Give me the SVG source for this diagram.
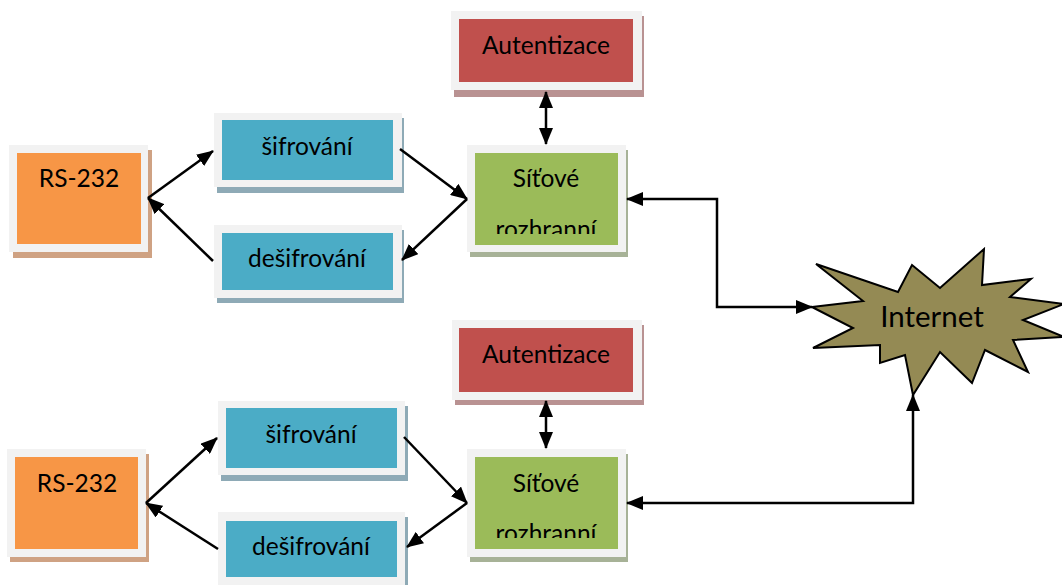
<svg xmlns="http://www.w3.org/2000/svg" width="1062" height="585" viewBox="0 0 1062 585">
<defs>
<style>
.frame{fill:#f2f2f2}
.lbl{font-family:Lato,"Liberation Sans",sans-serif;font-size:24.5px;fill:#000;text-anchor:middle}
.conn{fill:none;stroke:#000;stroke-width:2.5}
.or{fill:#f79646}.orS{fill:#cfa283}
.bl{fill:#4bacc6}.blS{fill:#8eaab6}
.rd{fill:#c0504d}.rdS{fill:#b99292}
.gr{fill:#9bbb59}.grS{fill:#a7b297}
</style>
<marker id="ah" markerUnits="userSpaceOnUse" markerWidth="17" markerHeight="14" refX="16" refY="7" orient="auto-start-reverse">
<path d="M0,0 L17,7 L0,14 z" fill="#000"/>
</marker>
<clipPath id="c1"><rect x="475" y="153" width="143" height="81"/></clipPath>
<clipPath id="c2"><rect x="475" y="457" width="143" height="81"/></clipPath>
</defs>
<rect width="1062" height="585" fill="#fff"/>

<g id="rs232-top">
<rect class="orS" x="13" y="150" width="139" height="108"/>
<rect class="frame" x="9" y="145" width="139" height="107"/>
<rect class="or" x="17" y="153" width="124" height="91"/>
<text class="lbl" x="79" y="187">RS-232</text>
</g>
<g id="sifrovani-top">
<rect class="blS" x="217" y="118" width="187" height="75"/>
<rect class="frame" x="214" y="113" width="188" height="74"/>
<rect class="bl" x="222" y="120" width="171" height="60"/>
<text class="lbl" x="307" y="155">šifrování</text>
</g>
<g id="desifrovani-top">
<rect class="blS" x="217" y="230" width="187" height="73"/>
<rect class="frame" x="214" y="225" width="188" height="73"/>
<rect class="bl" x="222" y="233" width="171" height="57"/>
<text class="lbl" x="307" y="267">dešifrování</text>
</g>
<g id="autentizace-top">
<rect class="rdS" x="454" y="16" width="190" height="81"/>
<rect class="frame" x="451" y="11" width="191" height="79"/>
<rect class="rd" x="459" y="19" width="174" height="63"/>
<text class="lbl" x="546" y="54">Autentizace</text>
</g>
<g id="sitove-top">
<rect class="grS" x="470" y="150" width="158" height="107"/>
<rect class="frame" x="467" y="145" width="159" height="107"/>
<rect class="gr" x="475" y="153" width="143" height="92"/>
<text class="lbl" x="546" y="187">Síťové</text>
<text class="lbl" x="546" y="238" clip-path="url(#c1)">rozhranní</text>
</g>

<g id="rs232-bottom">
<rect class="orS" x="10" y="454" width="139" height="108"/>
<rect class="frame" x="7" y="449" width="139" height="108"/>
<rect class="or" x="15" y="457" width="123" height="92"/>
<text class="lbl" x="77" y="492">RS-232</text>
</g>
<g id="sifrovani-bottom">
<rect class="blS" x="221" y="406" width="187" height="75"/>
<rect class="frame" x="218" y="401" width="187" height="74"/>
<rect class="bl" x="226" y="408" width="171" height="60"/>
<text class="lbl" x="311" y="443">šifrování</text>
</g>
<g id="desifrovani-bottom">
<rect class="blS" x="221" y="517" width="187" height="73"/>
<rect class="frame" x="218" y="512" width="187" height="80"/>
<rect class="bl" x="226" y="521" width="171" height="56"/>
<text class="lbl" x="311" y="555">dešifrování</text>
</g>
<g id="autentizace-bottom">
<rect class="rdS" x="455" y="325" width="189" height="80"/>
<rect class="frame" x="452" y="320" width="190" height="80"/>
<rect class="rd" x="459" y="328" width="174" height="64"/>
<text class="lbl" x="546" y="363">Autentizace</text>
</g>
<g id="sitove-bottom">
<rect class="grS" x="470" y="454" width="158" height="108"/>
<rect class="frame" x="467" y="449" width="159" height="108"/>
<rect class="gr" x="475" y="457" width="143" height="92"/>
<text class="lbl" x="546" y="492">Síťové</text>
<text class="lbl" x="546" y="542" clip-path="url(#c2)">rozhranní</text>
</g>

<g id="internet">
<polygon points="812,307 863,301 816,264 898,292 912,265 940,288 984,249 982,285 1031,279 1010,297 1064,304 1023,320 1064,337 1013,340 1028,372 985,350 972,383 940,352 913,395 905,355 880,363 880,345 813,348 853,328" fill="#948a54" stroke="#000" stroke-width="2" stroke-linejoin="miter"/>
<text x="932" y="327" font-family="Lato,'Liberation Sans',sans-serif" font-size="29.5" text-anchor="middle" fill="#000">Internet</text>
</g>

<g id="connectors">
<line class="conn" x1="148" y1="198" x2="213" y2="151" marker-end="url(#ah)"/>
<line class="conn" x1="213" y1="261" x2="148" y2="198" marker-end="url(#ah)"/>
<line class="conn" x1="400" y1="149" x2="467" y2="199" marker-end="url(#ah)"/>
<line class="conn" x1="467" y1="199" x2="402" y2="260" marker-end="url(#ah)"/>
<line class="conn" x1="546" y1="92" x2="546" y2="144" marker-start="url(#ah)" marker-end="url(#ah)"/>
<polyline class="conn" points="627,199 717,199 717,307 812,307" marker-start="url(#ah)" marker-end="url(#ah)"/>

<line class="conn" x1="146" y1="503" x2="217" y2="438" marker-end="url(#ah)"/>
<line class="conn" x1="218" y1="549" x2="146" y2="503" marker-end="url(#ah)"/>
<line class="conn" x1="404" y1="437" x2="467" y2="503" marker-end="url(#ah)"/>
<line class="conn" x1="467" y1="503" x2="407" y2="547" marker-end="url(#ah)"/>
<line class="conn" x1="546" y1="401" x2="546" y2="448" marker-start="url(#ah)" marker-end="url(#ah)"/>
<polyline class="conn" points="627,503 913,503 913,395" marker-start="url(#ah)" marker-end="url(#ah)"/>
</g>
</svg>
